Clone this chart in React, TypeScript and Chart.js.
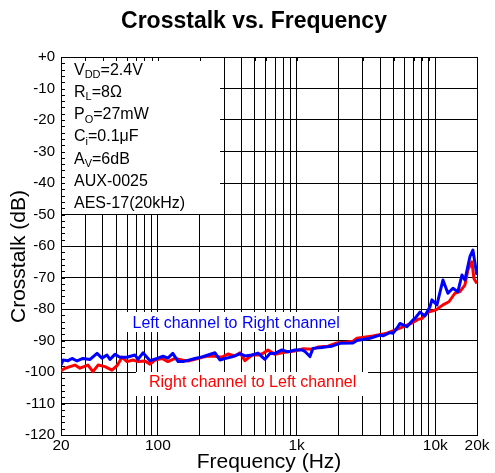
import React, { useEffect, useRef } from "react";
import { Chart, registerables } from "chart.js";

Chart.register(...registerables);

const FONT = "'Liberation Sans', Arial, Helvetica, sans-serif";

const titleText = "Crosstalk vs. Frequency";
const xTitle = "Frequency (Hz)";
const yTitle = "Crosstalk (dB)";

const xMin = 20;
const xMax = 20000;
const yMin = -120;
const yMax = 0;
const yStep = 10;

const xGridValues = [
  20, 30, 40, 50, 60, 70, 80, 90,
  100, 200, 300, 400, 500, 600, 700, 800, 900,
  1000, 2000, 3000, 4000, 5000, 6000, 7000, 8000, 9000,
  10000, 20000,
];
const xLabelValues = [20, 100, 1000, 10000, 20000];
const xLabelTexts = ["20", "100", "1k", "10k", "20k"];

const blueName = "Left channel to Right channel";
const blueFreq = [
  20, 20.7, 22.5, 24, 26.1, 28.8, 32.4, 36.4, 39.5, 42.9,
  45.1, 49, 53.3, 59.8, 68.3, 71.8, 78, 87.7, 98.4, 109,
  118, 128, 140, 152, 185, 208, 230, 258, 280, 304,
  342, 391, 424, 477, 527, 591, 643, 698, 784, 866,
  973, 1093, 1149, 1248, 1312, 1523, 1655, 1798, 2054, 2548,
  2724, 3380, 3991, 4194, 4710, 4953, 5292, 5561, 6246, 6902,
  7135, 7751, 8422, 9152, 9460, 10280, 11360, 12340, 13410, 14570,
  15570, 16360, 17780, 18680, 19970,
];
const blueDb = [
  -97.8, -96.2, -96.4, -95.7, -96.5, -95.7, -96.0, -94.1, -95.6, -94.6,
  -96.0, -94.4, -95.3, -95.3, -94.6, -96.0, -93.9, -96.4, -95.7, -95.0,
  -95.6, -94.1, -96.7, -96.7, -95.7, -95.2, -94.6, -93.9, -96.2, -95.7,
  -95.2, -94.2, -94.9, -94.6, -94.0, -96.0, -94.1, -94.1, -93.0, -93.6,
  -93.0, -93.0, -93.5, -95.1, -92.5, -92.2, -92.0, -91.8, -90.9, -90.8,
  -90.0, -89.3, -88.3, -88.5, -87.5, -87.7, -86.1, -84.6, -85.6, -83.5,
  -83.0, -81.0, -82.2, -79.3, -77.1, -78.7, -70.8, -75.0, -73.4, -74.5,
  -69.2, -70.8, -63.4, -61.3, -69.2,
];

const redName = "Right channel to Left channel";
const redFreq = [
  20, 21.4, 23.2, 25.2, 27.4, 31.3, 34, 37, 41.5, 46.6,
  50.7, 55.1, 59.8, 66.1, 71.8, 80.7, 87.7, 95.2, 107, 118,
  133, 149, 165, 185, 208, 230, 258, 290, 320, 359,
  391, 424, 477, 527, 572, 622, 698, 784, 866, 973,
  1120, 1290, 1426, 1683, 1954, 2307, 2548, 2724, 3552, 4482,
  5561, 6902, 7498, 8014, 8851, 9620, 10280, 11360, 12550, 13860,
  15060, 16360, 17200, 18380, 19000, 19970,
];
const redDb = [
  -99.6, -98.8, -98.3, -97.8, -98.8, -97.8, -99.9, -97.8, -98.3, -99.4,
  -98.0, -95.3, -96.7, -96.2, -96.7, -96.5, -97.5, -96.2, -95.7, -96.7,
  -95.7, -96.2, -96.5, -96.0, -95.3, -94.9, -95.0, -95.3, -94.3, -94.9,
  -93.9, -96.4, -94.6, -94.6, -94.1, -93.0, -94.4, -93.9, -93.6, -93.3,
  -92.6, -92.8, -92.1, -91.8, -90.8, -90.5, -90.2, -89.3, -88.6, -87.7,
  -86.1, -84.3, -83.3, -83.0, -81.0, -80.6, -80.1, -78.7, -77.7, -75.0,
  -74.5, -72.4, -67.6, -65.0, -70.3, -71.9,
];

// Conditions box: [main, subscript, rest]
const conditionLines: [string, string, string][] = [
  ["V", "DD", "=2.4V"],
  ["R", "L", "=8Ω"],
  ["P", "O", "=27mW"],
  ["C", "i", "=0.1μF"],
  ["A", "V", "=6dB"],
  ["AUX-0025", "", ""],
  ["AES-17(20kHz)", "", ""],
];

const BLUE = "#0000ff";
const RED = "#ff0000";

const overlayPlugin = {
  id: "overlay",
  beforeDatasetsDraw(chart: any) {
    const { ctx, chartArea: ca, scales } = chart;
    const ys = scales.y;
    const xs = scales.x;
    ctx.save();

    // conditions box (white background hiding the grid)
    const y50 = ys.getPixelForValue(-50);
    ctx.fillStyle = "#ffffff";
    ctx.fillRect(ca.left + 1, ca.top + 1, 158, y50 - ca.top - 1.5);

    // legend label boxes
    ctx.fillRect(123, 312, 222, 20);
    ctx.fillRect(136, 372, 232, 24);

    // minor ticks on left axis (every 2 dB) and top axis (log)
    ctx.strokeStyle = "#000";
    ctx.lineWidth = 1;
    ctx.beginPath();
    for (let v = yMin; v <= yMax; v += 2) {
      const py = Math.round(ys.getPixelForValue(v)) + 0.5;
      ctx.moveTo(ca.left, py);
      ctx.lineTo(ca.left + 4, py);
    }
    for (const v of xGridValues) {
      const px = Math.round(xs.getPixelForValue(v)) + 0.5;
      ctx.moveTo(px, ca.top);
      ctx.lineTo(px, ca.top + 4);
    }
    ctx.stroke();

    // conditions text
    ctx.fillStyle = "#000";
    ctx.textBaseline = "alphabetic";
    ctx.textAlign = "left";
    const mainFont = `16px ${FONT}`;
    const subFont = `11px ${FONT}`;
    let baseline = 74.5;
    for (const [main, sub, rest] of conditionLines) {
      let x = 74;
      ctx.font = mainFont;
      ctx.fillText(main, x, baseline);
      x += ctx.measureText(main).width;
      if (sub) {
        ctx.font = subFont;
        ctx.fillText(sub, x, baseline + 3.5);
        x += ctx.measureText(sub).width;
      }
      if (rest) {
        ctx.font = mainFont;
        ctx.fillText(rest, x, baseline);
      }
      baseline += 22.3;
    }

    // series labels
    ctx.font = mainFont;
    ctx.fillStyle = BLUE;
    ctx.fillText(blueName, 132.5, 328);
    ctx.fillStyle = RED;
    ctx.fillText(redName, 149, 387);

    ctx.restore();
  },
  afterDraw(chart: any) {
    const { ctx } = chart;
    ctx.save();
    ctx.fillStyle = "#000";
    ctx.textAlign = "center";
    ctx.textBaseline = "middle";
    ctx.font = `bold 23px ${FONT}`;
    ctx.fillText(titleText, 254, 22);

    ctx.translate(19, 256.5);
    ctx.rotate(-Math.PI / 2);
    ctx.font = `21px ${FONT}`;
    ctx.fillText(yTitle, 0, 0);
    ctx.restore();
  },
};

export default function App() {
  const canvasRef = useRef<HTMLCanvasElement | null>(null);

  useEffect(() => {
    const canvas = canvasRef.current;
    if (!canvas) return;
    Chart.defaults.font.family = FONT;
    const chart = new Chart(canvas, {
      type: "line",
      data: {
        datasets: [
          {
            label: blueName,
            data: blueFreq.map((f, i) => ({ x: f, y: blueDb[i] })),
            borderColor: BLUE,
            backgroundColor: BLUE,
            borderWidth: 3,
            pointRadius: 0,
            tension: 0,
            borderJoinStyle: "round",
            fill: false,
          },
          {
            label: redName,
            data: redFreq.map((f, i) => ({ x: f, y: redDb[i] })),
            borderColor: RED,
            backgroundColor: RED,
            borderWidth: 3,
            pointRadius: 0,
            tension: 0,
            borderJoinStyle: "round",
            fill: false,
          },
        ],
      },
      options: {
        responsive: false,
        animation: false,
        parsing: true,
        layout: { padding: { top: 57, right: 18, bottom: 0, left: 0 } },
        plugins: {
          legend: { display: false },
          title: { display: false },
          tooltip: { enabled: false },
        },
        scales: {
          x: {
            type: "logarithmic",
            min: xMin,
            max: xMax,
            afterBuildTicks: (scale: any) => {
              scale.ticks = xGridValues.map((v) => ({ value: v }));
            },
            afterFit: (scale: any) => {
              scale.height = 38;
            },
            ticks: {
              autoSkip: false,
              maxRotation: 0,
              minRotation: 0,
              padding: 3,
              color: "#000",
              font: { size: 15.5, lineHeight: 1 },
              callback: (value: any) => {
                const idx = xLabelValues.indexOf(Number(value));
                return idx >= 0 ? xLabelTexts[idx] : "";
              },
            },
            grid: { color: "#000", lineWidth: 1, drawTicks: false },
            border: { display: true, color: "#000", width: 1 },
            title: {
              display: true,
              text: xTitle,
              color: "#000",
              font: { size: 21, lineHeight: 1 },
              padding: { top: 0, bottom: 0 },
            },
          },
          y: {
            type: "linear",
            min: yMin,
            max: yMax,
            afterFit: (scale: any) => {
              scale.width = 61;
            },
            ticks: {
              stepSize: yStep,
              padding: 6,
              color: "#000",
              font: { size: 15, lineHeight: 1 },
              callback: (value: any) => (Number(value) === 0 ? "+0" : String(value)),
            },
            grid: { color: "#000", lineWidth: 1, drawTicks: false },
            border: { display: true, color: "#000", width: 1 },
          },
        },
      },
      plugins: [overlayPlugin],
    } as any);
    return () => chart.destroy();
  }, []);

  return (
    <div
      style={{
        position: "fixed",
        left: 0,
        top: 0,
        width: 495,
        height: 473,
        background: "#fff",
      }}
    >
      <canvas ref={canvasRef} width={495} height={473} style={{ display: "block" }} />
    </div>
  );
}
